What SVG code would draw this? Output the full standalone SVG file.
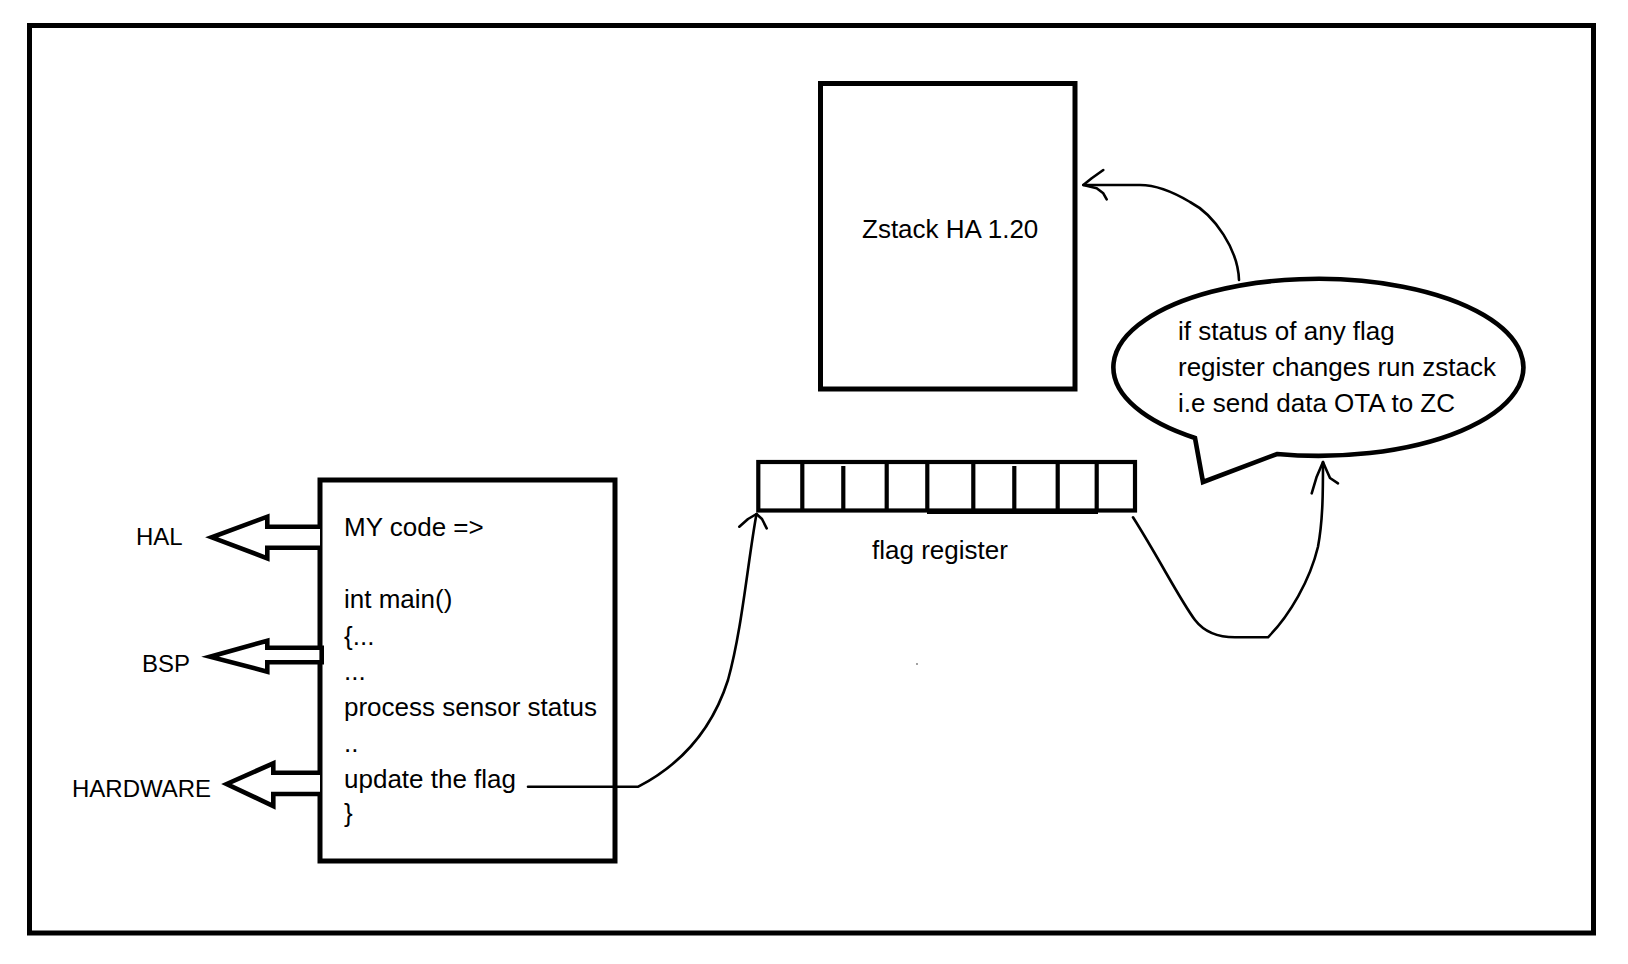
<svg xmlns="http://www.w3.org/2000/svg" width="1628" height="964" viewBox="0 0 1628 964">
<style>
text{font-family:"Liberation Sans",Arial,sans-serif;font-size:26px;fill:#000}
.lbl{font-size:24px}
.thick{fill:none;stroke:#000;stroke-width:5;stroke-linejoin:miter}
.blk{fill:#fff;stroke:#000;stroke-width:4.6;stroke-linejoin:miter}
.thin{fill:none;stroke:#000;stroke-width:2.6;stroke-linejoin:round;stroke-linecap:round}
.reg{fill:none;stroke:#000;stroke-width:4.2}
</style>
<rect x="0" y="0" width="1628" height="964" fill="#fff"/>
<rect id="frame" x="29.5" y="25.5" width="1564" height="907.5" class="thick" stroke-width="4.8"/>

<g id="zstack">
<rect x="820.5" y="83.5" width="254.5" height="305.5" class="thick"/>
<text x="862" y="238">Zstack HA 1.20</text>
</g>

<g id="bubble">
<path d="M1195,438 L1203,482 L1277,454 A205,88.5 0 1 0 1195,438 Z" class="blk"/>
<text x="1178" y="340">if status of any flag</text>
<text x="1178" y="376">register changes run zstack</text>
<text x="1178" y="412">i.e send data OTA to ZC</text>
</g>

<g id="flag-register">
<rect x="758.3" y="462" width="376.7" height="48.5" class="reg"/>
<line x1="802.3" y1="462" x2="802.3" y2="510" class="reg"/>
<line x1="843.3" y1="466" x2="843.3" y2="510" class="reg"/>
<line x1="886.7" y1="462" x2="886.7" y2="510" class="reg"/>
<line x1="927.3" y1="462" x2="927.3" y2="512" class="reg" stroke-width="5.5"/>
<line x1="973.3" y1="462" x2="973.3" y2="510" class="reg"/>
<line x1="1014.3" y1="466" x2="1014.3" y2="510" class="reg"/>
<line x1="1057.7" y1="462" x2="1057.7" y2="510" class="reg"/>
<line x1="1096.7" y1="462" x2="1096.7" y2="510" class="reg"/>
<line x1="927" y1="512.5" x2="1098" y2="512.5" stroke="#000" stroke-width="3"/>
<text x="872" y="559">flag register</text>
</g>

<g id="my-code">
<rect x="320" y="480" width="295" height="381" class="thick"/>
<text x="344" y="536">MY code =&gt;</text>
<text x="344" y="608">int main()</text>
<text x="344" y="645">{...</text>
<text x="344" y="680">...</text>
<text x="344" y="716">process sensor status</text>
<text x="344" y="752">..</text>
<text x="344" y="788">update the flag</text>
<text x="344" y="822">}</text>
</g>

<g id="hal">
<path d="M320,526.7 L267.3,526.7 L267.3,516.7 L211.7,537.3 L267.3,558.3 L267.3,547.7 L320,547.7" class="blk"/>
<text class="lbl" x="136" y="545">HAL</text>
</g>
<g id="bsp">
<path d="M321.7,647.7 L267.3,647.7 L267.3,640.7 L210,656.7 L267.3,671.7 L267.3,662.3 L321.7,662.3 Z" class="blk"/>
<text class="lbl" x="142" y="672">BSP</text>
</g>
<g id="hardware">
<path d="M320,772.7 L273.3,772.7 L273.3,763.3 L226.7,784 L273.3,806 L273.3,794 L320,794" class="blk"/>
<text class="lbl" x="72" y="797">HARDWARE</text>
</g>

<circle cx="917" cy="664" r="0.9" fill="#777"/>

<g id="connectors">
<path class="thin" d="M528,786.7 L638.3,786.7 C680,765 712,730 728,680 C742,630 748,560 756.5,514"/>
<path class="thin" d="M739.3,526.7 L748,519 L756.5,514 L762,519 L766.7,528.3"/>
<path class="thin" d="M1133,517.3 C1160,560 1180,600 1195,620 C1205,633 1220,637.3 1235,637.3 L1268,637.3 C1290,615 1310,580 1318,546.7 C1323,520 1323,490 1323,462"/>
<path class="thin" d="M1311.7,493.3 L1316.7,476.7 L1323,462 L1325,466.7 L1330,478 L1338,483.3"/>
<path class="thin" d="M1239,280 C1238,250 1215,215 1190,202 C1170,190 1155,185 1140,185 L1083.3,185"/>
<path class="thin" d="M1103.3,170 L1091.7,178.3 L1083.3,185 L1096.7,188.3 L1103.3,193.3 L1106.7,199.3"/>
</g>
</svg>
